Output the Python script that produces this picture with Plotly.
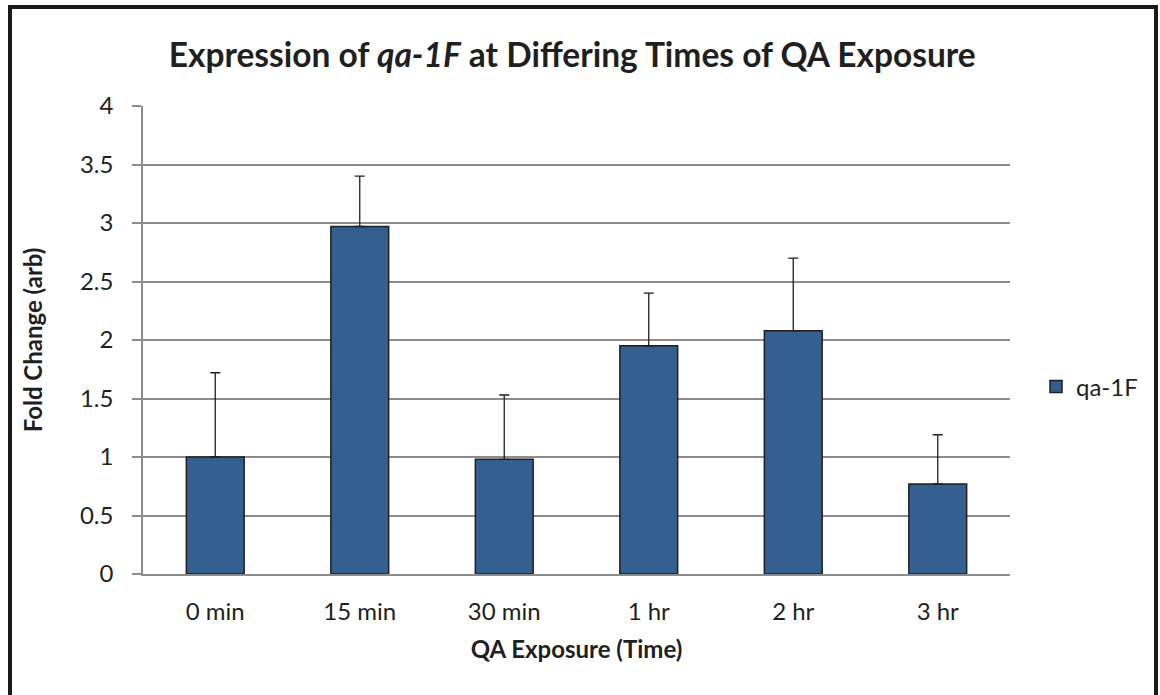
import plotly.graph_objects as go

categories = ["0 min", "15 min", "30 min", "1 hr", "2 hr", "3 hr"]
fold_change = [1.00, 2.97, 0.98, 1.95, 2.08, 0.77]
error_plus = [0.72, 0.43, 0.55, 0.45, 0.62, 0.42]
y_ticks = [0, 0.5, 1, 1.5, 2, 2.5, 3, 3.5, 4]
y_tick_labels = ["0", "0.5", "1", "1.5", "2", "2.5", "3", "3.5", "4"]
series_name = "qa-1F"

FONT = "Lato, 'Open Sans', sans-serif"
TXT = "#1f1f1f"
GRID = "#8c8c8c"

fig = go.Figure()
fig.add_trace(go.Bar(
    x=categories,
    y=fold_change,
    name=series_name,
    marker=dict(color="#335f91", line=dict(color="#1f1f1f", width=1.5)),
    error_y=dict(type="data", symmetric=False, array=error_plus,
                 arrayminus=[0] * len(error_plus),
                 color="#1f1f1f", thickness=1.3, width=5),
))

L, R, T, B = 143, 150, 106, 121
W, H = 1160, 695
pw, ph = W - L - R, H - T - B

def px_x(p):
    return (p - L) / pw

def px_y(p):
    return (H - B - p) / ph

fig.update_layout(
    width=W, height=H,
    margin=dict(l=L, r=R, t=T, b=B, pad=0),
    paper_bgcolor="white", plot_bgcolor="white",
    bargap=0.6,
    font=dict(family=FONT, color=TXT, size=24),
    title=dict(text="<b>Expression of <i>qa-1F</i> at Differing Times of QA Exposure</b>",
               x=0.495, xref="paper", xanchor="center",
               y=1 - 55 / H, yanchor="middle", yref="container",
               font=dict(family=FONT, size=33.5, color=TXT)),
    showlegend=True,
    legend=dict(x=px_x(1036), y=px_y(387), xanchor="left", yanchor="middle",
                font=dict(family=FONT, size=24, color=TXT),
                itemwidth=30, bgcolor="rgba(0,0,0,0)"),
    xaxis=dict(showgrid=False, showline=True, linecolor=GRID, linewidth=1.5,
               ticks="", tickfont=dict(size=24, color=TXT), ticklabelstandoff=15,
               title=dict(text="<b>QA Exposure (Time)</b>", font=dict(size=24, color=TXT),
                          standoff=18),
               fixedrange=True),
    yaxis=dict(range=[0, 4], tickvals=y_ticks, ticktext=y_tick_labels,
               showgrid=True, gridcolor=GRID, gridwidth=1.5,
               showline=True, linecolor=GRID, linewidth=1.5,
               ticks="outside", ticklen=9, tickcolor=GRID, tickwidth=1.5,
               tickfont=dict(size=24, color=TXT), ticklabelstandoff=14, zeroline=False,
               title=dict(text="<b>Fold Change (arb)</b>", font=dict(size=24, color=TXT),
                          standoff=31),
               fixedrange=True),
    shapes=[dict(type="rect", xref="paper", yref="paper",
                 x0=px_x(10), x1=px_x(1156), y0=px_y(760), y1=px_y(7),
                 line=dict(color="#1a1a1a", width=4), fillcolor="rgba(0,0,0,0)",
                 layer="above")],
)

fig.write_html("out.html", config={"displayModeBar": False},
               post_script="document.body.style.margin='0';")
